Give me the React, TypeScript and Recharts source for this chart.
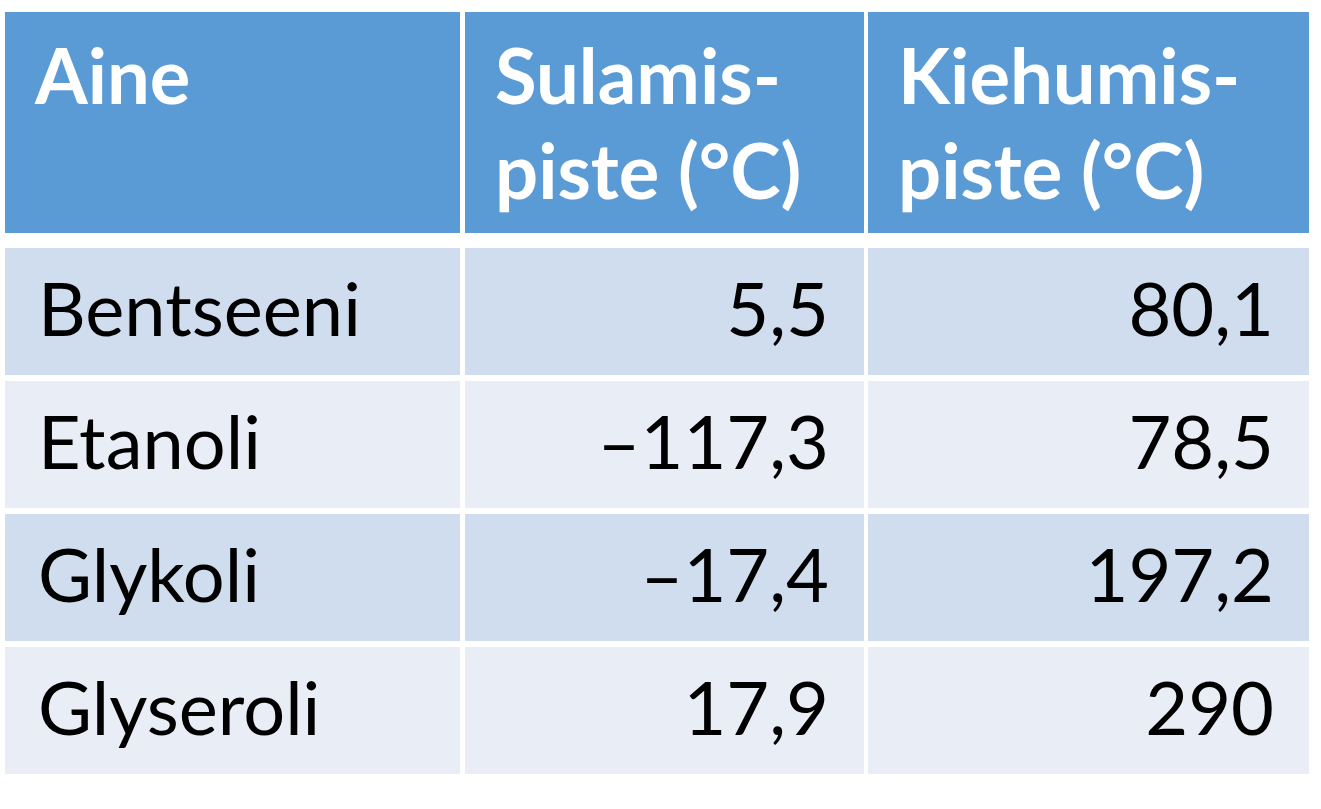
import React from "react";
import { Surface, Layer, Rectangle, Text } from "recharts";

// table content
const headers = [["Aine"], ["Sulamis-", "piste (°C)"], ["Kiehumis-", "piste (°C)"]];
const substances = ["Bentseeni", "Etanoli", "Glykoli", "Glyseroli"];
const meltingPoints = [5.5, -117.3, -17.4, 17.9];
const boilingPoints = [80.1, 78.5, 197.2, 290];

// layout
const W = 1321;
const H = 809;
const colX = [5, 465, 868];
const colW = [455, 399, 441];
const headerTop = 12;
const headerH = 221;
const bodyTop = 248;
const rowPitch = 133;
const rowH = 127;
const font = "Lato, 'Open Sans', sans-serif";

const fmt = (v: number) => {
  const s = String(Math.abs(v)).replace(".", ",");
  return v < 0 ? "–" + s : s;
};

export default function App() {
  const rows = substances.map((name, i) => [name, fmt(meltingPoints[i]), fmt(boilingPoints[i])]);

  return (
    <div style={{ position: "absolute", left: 0, top: 0, width: W, height: H, background: "#fff" }}>
      <Surface width={W} height={H}>
        {/* header */}
        <Layer>
          {headers.map((lines, c) => (
            <Layer key={c}>
              <Rectangle x={colX[c]} y={headerTop} width={colW[c]} height={headerH} fill="#5B9BD5" />
              {lines.map((line, l) => (
                <Text
                  key={l}
                  x={colX[c] + 30}
                  y={headerTop + 92 + l * 95}
                  verticalAnchor="end"
                  textAnchor="start"
                  fill="#ffffff"
                  fontFamily={font}
                  fontWeight={700}
                  fontSize={76}
                >
                  {line}
                </Text>
              ))}
            </Layer>
          ))}
        </Layer>

        {/* body */}
        <Layer>
          {rows.map((cells, r) => {
            const y = bodyTop + r * rowPitch;
            const fill = r % 2 === 0 ? "#CFDDEE" : "#E9EEF6";
            return (
              <Layer key={r}>
                {cells.map((cell, c) => (
                  <Layer key={c}>
                    <Rectangle x={colX[c]} y={y} width={colW[c]} height={rowH} fill={fill} />
                    <Text
                      x={c === 0 ? colX[c] + 33 : colX[c] + colW[c] - 35}
                      y={y + rowH / 2 + 24}
                      verticalAnchor="end"
                      textAnchor={c === 0 ? "start" : "end"}
                      fill="#000000"
                      fontFamily={font}
                      fontSize={74}
                    >
                      {cell}
                    </Text>
                  </Layer>
                ))}
              </Layer>
            );
          })}
        </Layer>
      </Surface>
    </div>
  );
}
